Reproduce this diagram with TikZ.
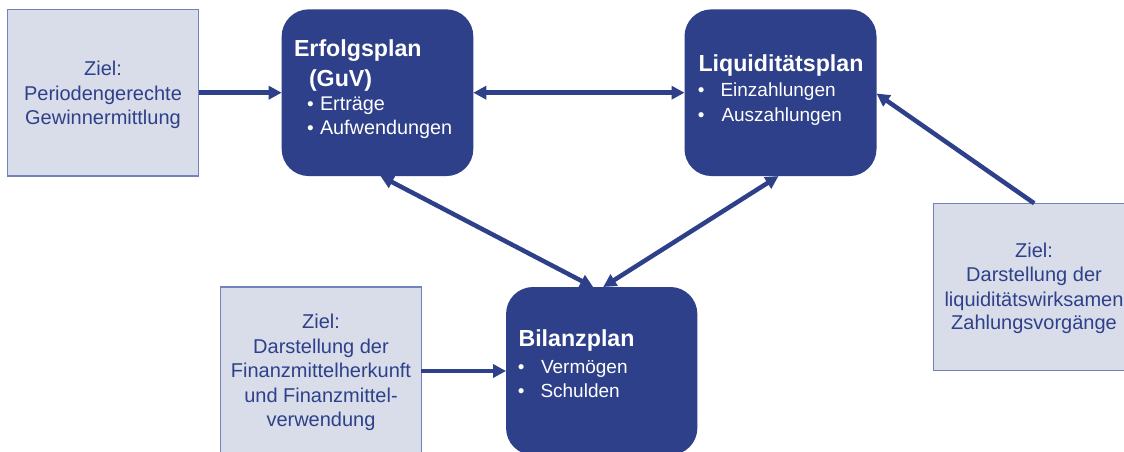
\documentclass[tikz,border=0pt]{standalone}
\usepackage{fontspec}
\setmainfont{Liberation Sans}
\usetikzlibrary{arrows.meta}
\definecolor{dblue}{HTML}{2E4089}
\definecolor{lfill}{HTML}{D9DDEA}
\definecolor{lborder}{HTML}{7382BC}
\tikzset{
  darkbox/.style={fill=dblue, draw=none, rounded corners=27pt, inner sep=0pt, outer sep=0pt},
  zielbox/.style={fill=lfill, draw=lborder, line width=1.4pt, inner sep=0pt, outer sep=0pt},
  ztext/.style={inner sep=0pt, outer sep=0pt, anchor=base, text=dblue, font=\fontsize{20pt}{24pt}\selectfont},
  ttitle/.style={inner sep=0pt, outer sep=0pt, anchor=base west, text=white, font=\fontsize{23.2pt}{27pt}\selectfont\bfseries},
  titem/.style={inner sep=0pt, outer sep=0pt, anchor=base west, text=white, font=\fontsize{19pt}{23pt}\selectfont},
  tbul/.style={inner sep=0pt, outer sep=0pt, anchor=base, text=white, font=\fontsize{19pt}{23pt}\selectfont},
  titemb/.style={titem, font=\fontsize{19.8pt}{23pt}\selectfont},
  arr/.style={draw=dblue, line width=4.5pt, -{Triangle[length=13pt,width=13pt]}},
  darr/.style={draw=dblue, line width=4.5pt, {Triangle[length=13pt,width=13pt]}-{Triangle[length=13pt,width=13pt]}}
}
\begin{document}
\begin{tikzpicture}[x=1pt,y=-1pt]
\useasboundingbox (0,0) rectangle (1124,452);
\fill[white] (0,0) rectangle (1124,452);
\clip (0,0) rectangle (1124,452);
% boxes
\node[zielbox, minimum width=191.4pt, minimum height=166.7pt] (z1) at (103,92.7) {};
\node[darkbox, minimum width=191.6pt, minimum height=166.7pt] (erf) at (377.5,92.7) {};
\node[darkbox, minimum width=192pt, minimum height=166.7pt] (liq) at (780.5,92.7) {};
\node[darkbox, minimum width=191.3pt, minimum height=168pt] (bil) at (601.7,371) {};
\node[zielbox, minimum width=200.6pt, minimum height=168pt] (z2) at (321,371) {};
\node[zielbox, minimum width=201.7pt, minimum height=167.4pt] (z3) at (1034.2,287) {};
% Ziel texts
\node[ztext] (z1a) at (103,76) {Ziel:};
\node[ztext] (z1b) at (103,100) {Periodengerechte};
\node[ztext] (z1c) at (103,124) {Gewinnermittlung};
\node[ztext] (z2a) at (321,328) {Ziel:};
\node[ztext] (z2b) at (321,353) {Darstellung der};
\node[ztext] (z2c) at (321,377) {Finanzmittelherkunft};
\node[ztext] (z2d) at (321,402) {und Finanzmittel-};
\node[ztext] (z2e) at (321,426) {verwendung};
\node[ztext] (z3a) at (1034,257) {Ziel:};
\node[ztext] (z3b) at (1034,281.7) {Darstellung der};
\node[ztext] (z3c) at (1034,306) {liquiditätswirksamen};
\node[ztext] (z3d) at (1034,329.5) {Zahlungsvorgänge};
% Erfolgsplan
\node[ttitle] (erft) at (294,57) {Erfolgsplan};
\node[ttitle] (erfg) at (309,86) {(GuV)};
\node[tbul] (erfb1) at (310.5,110) {•};
\node[titemb] (erfi1) at (320,110) {Erträge};
\node[tbul] (erfb2) at (310.5,134) {•};
\node[titemb] (erfi2) at (320,134) {Aufwendungen};
% Liquiditaetsplan
\node[ttitle] (liqt) at (698.5,71.7) {Liquiditätsplan};
\node[tbul] (liqb1) at (701.3,96.7) {•};
\node[titem] (liqi1) at (720.5,96.7) {Einzahlungen};
\node[tbul] (liqb2) at (701.3,121) {•};
\node[titem] (liqi2) at (721.5,121) {Auszahlungen};
% Bilanzplan
\node[ttitle] (bilt) at (518.5,346.7) {Bilanzplan};
\node[tbul] (bilb1) at (521.3,373) {•};
\node[titem] (bili1) at (541,373) {Vermögen};
\node[tbul] (bilb2) at (521.3,397) {•};
\node[titem] (bili2) at (540.5,397) {Schulden};
% connectors
\draw[arr] (z1.east) -- (erf.west);
\draw[darr] (erf.east) -- (liq.west);
\draw[arr] (z3.north) -- ([yshift=-0.8pt]liq.east);
\draw[arr] (z2.east) -- (bil.west);
\draw[darr] ([xshift=3pt]erf.south) -- ([xshift=-8.5pt]bil.north);
\draw[darr] ([xshift=-2pt]liq.south) -- ([xshift=1.5pt]bil.north);
\end{tikzpicture}
\end{document}
